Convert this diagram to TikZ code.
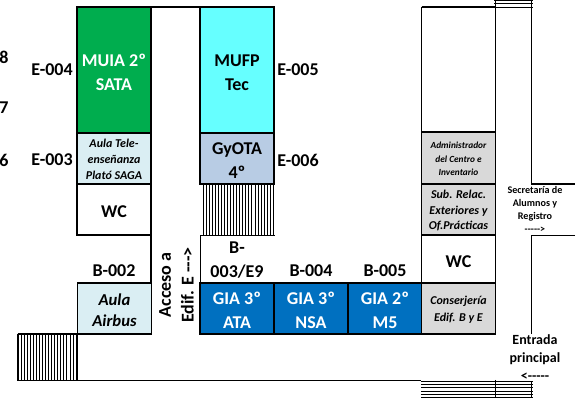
\documentclass[tikz,border=0pt]{standalone}
\usepackage{fontspec}
\setmainfont{Carlito}
\usepackage{xcolor}
\usetikzlibrary{positioning}
\definecolor{muiagreen}{HTML}{00AD4E}
\definecolor{mufpcyan}{HTML}{66FFFF}
\definecolor{paleblue}{HTML}{DAEEF3}
\definecolor{gyotablue}{HTML}{B8CCE4}
\definecolor{giablue}{HTML}{0070C0}
\definecolor{officegrey}{HTML}{D9D9D9}
\newcommand{\lift}{\rule{0pt}{0.9em}}
\tikzset{
    room/.style={draw, line width=0.9pt, minimum width=74*0.75pt, align=center, inner sep=0pt, font=\bfseries\fontsize{13.5}{18}\selectfont},
    thick room/.style={room, line width=1.7pt},
    lab/.style={align=center, inner sep=0pt, font=\bfseries\fontsize{13.5}{18}\selectfont},
    small room/.style={room, font=\bfseries\itshape\fontsize{9}{12}\selectfont},
    tiny room/.style={room, font=\bfseries\itshape\fontsize{7}{10}\selectfont},
    wall/.style={line width=0.9pt}
}
\begin{document}
\begin{tikzpicture}[x=0.75pt, y=-0.75pt]
    \useasboundingbox (0, 0) rectangle (579, 398);
    % hatched stairs
    \foreach \i in {0, ..., 23} {
        \draw[line width=0.5pt] ({203+\i*3.05}, 184) -- ({203+\i*3.05}, 235);
    }
    \foreach \i in {0, ..., 19} {
        \draw[line width=0.5pt] ({18+\i*3.05}, 334) -- ({18+\i*3.05}, 380);
    }
    \draw[wall] (17.5, 334) -- (77.5, 334) -- (77.5, 380);
    \draw[wall] (17.5, 334) -- (17.5, 380.5) -- (421, 380.5);
    \foreach \y in {381, 384.3, 387.6, 390.9, 394.2, 397.5} {
        \draw[line width=0.5pt] (421, \y) -- (533, \y);
    }
    \foreach \y in {0.8, 3.9, 7} {
        \draw[line width=0.6pt] (494, \y) -- (533, \y);
    }
    % walls
    \draw[wall] (151, 7) -- (200, 7);
    \draw[wall] (151, 184) -- (151, 334);
    \draw[wall] (421.5, 7) -- (495, 7) (421.5, 7) -- (421.5, 132);
    \draw[wall] (495.5, 0) -- (495.5, 334);
    \draw[wall] (495.5, 380) -- (495.5, 398);
    \draw[wall] (531.5, 0) -- (531.5, 184) -- (575, 184);
    \draw[wall] (575, 235.5) -- (531.5, 235.5) -- (531.5, 334);
    \draw[wall] (531.5, 381) -- (531.5, 398);
    \draw[wall] (200.5, 283) -- (200.5, 235.5) -- (274.5, 235.5);
    % left column
    \node[thick room, fill=muiagreen, text=white, minimum height=126*0.75pt] (muia) at (114, 70) {\lift MUIA 2º\\SATA};
    \node[small room, fill=paleblue, line width=1.2pt, minimum height=51*0.75pt] (tele) at (114, 158.5) {\lift Aula Tele-\\enseñanza\\Plató SAGA};
    \node[room, minimum height=51*0.75pt] (wcleft) at (114, 209.5) {\lift WC};
    \node[room, fill=paleblue, font=\bfseries\itshape\fontsize{12.5}{15.7}\selectfont, minimum height=51*0.75pt] (airbus) at (114.5, 308.5) {\lift Aula\\Airbus};
    % middle column
    \node[thick room, fill=mufpcyan, minimum height=126*0.75pt] (mufp) at (237, 70) {\lift MUFP\\Tec};
    \node[thick room, fill=gyotablue, minimum height=51*0.75pt] (gyota) at (237, 158.5) {\lift GyOTA\\4º};
    \node[thick room, fill=giablue, text=white, minimum height=51*0.75pt] (ata) at (237, 308.5) {\lift GIA 3º\\ATA};
    \node[thick room, fill=giablue, text=white, minimum height=51*0.75pt] (nsa) at (311, 308.5) {\lift GIA 3º\\NSA};
    \node[thick room, fill=giablue, text=white, minimum height=51*0.75pt] (mcinco) at (385, 308.5) {\lift GIA 2º\\M5};
    % right column
    \node[tiny room, fill=officegrey, minimum height=52*0.75pt] (admin) at (458.5, 158) {\lift Administrador\\del Centro e\\Inventario};
    \node[small room, fill=officegrey, font=\bfseries\itshape\fontsize{9}{11.6}\selectfont, minimum height=51*0.75pt] (subrel) at (458.5, 209.5) {\lift Sub. Relac.\\Exteriores y\\Of.Prácticas};
    \node[room, minimum height=48*0.75pt] (wcright) at (458.5, 259) {\lift WC};
    \node[tiny room, fill=officegrey, font=\bfseries\itshape\fontsize{9}{12.6}\selectfont, minimum height=51*0.75pt] (conserje) at (458.5, 308.5) {\lift Conserjería\\Edif. B y E};
    % labels
    \node[lab] (ocho) at (4, 57) {8};
    \node[lab] (siete) at (4, 108) {7};
    \node[lab] (seis) at (4, 160) {6};
    \node[lab] (efour) at (52, 70) {E-004};
    \node[lab] (ethree) at (52, 160) {E-003};
    \node[lab] (efive) at (298, 70) {E-005};
    \node[lab] (esix) at (298, 160) {E-006};
    \node[lab] (btwo) at (114, 271) {B-002};
    \node[lab] (bthree) at (237, 260) {B-\\003/E9};
    \node[lab] (bfour) at (311, 271) {B-004};
    \node[lab] (bfive) at (385, 271) {B-005};
    \node[lab, font=\bfseries\fontsize{13.5}{17}\selectfont, rotate=90] (acceso) at (176.5, 285) {Acceso a\\Edif. E -{}-{}->};
    \node[lab, font=\bfseries\fontsize{7.6}{9.7}\selectfont] (secre) at (535, 209.5) {Secretaría de\\Alumnos y\\Registro\\-{}-{}-{}-{}->};
    \node[lab, font=\bfseries\fontsize{10.5}{13.5}\selectfont] (entrada) at (535, 358) {Entrada\\principal\\<-{}-{}-{}-{}-};
\end{tikzpicture}
\end{document}
